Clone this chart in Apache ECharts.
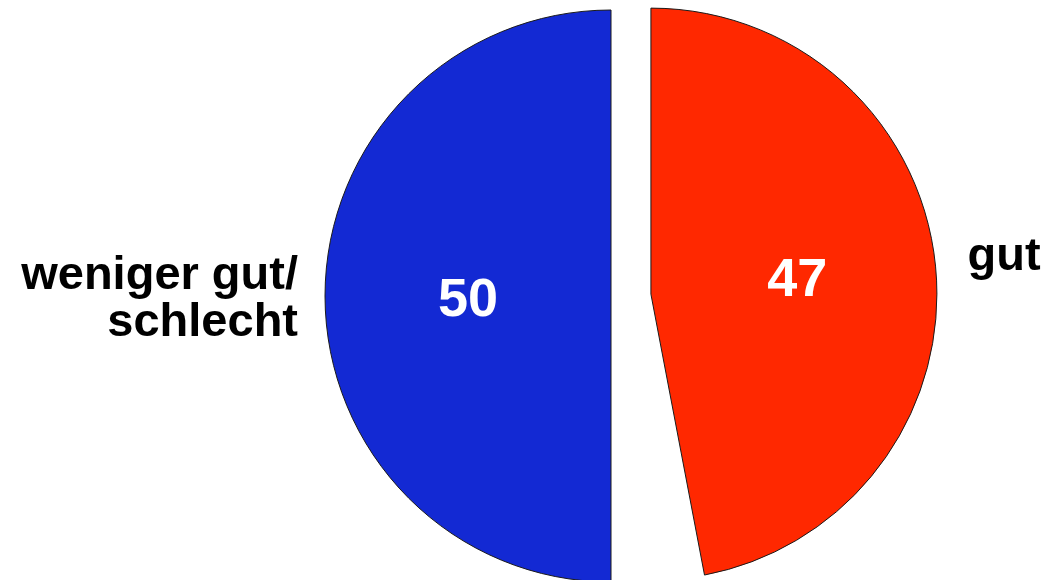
<!DOCTYPE html>
<html>
<head>
<meta charset="utf-8">
<script src="https://cdn.jsdelivr.net/npm/echarts@6/dist/echarts.min.js"></script>
<style>
html,body{margin:0;padding:0;background:#fff;}
#chart{width:1048px;height:580px;}
</style>
</head>
<body>
<div id="chart"></div>
<script>
var categories = ['gut', 'weiß nicht', 'weniger gut/\nschlecht'];
var values = [47, 3, 50];
var colors = ['#FF2800', 'transparent', '#1329D3'];
var shown = [true, false, true];

var chart = echarts.init(document.getElementById('chart'), null, {renderer: 'canvas'});
var font = "'Liberation Sans', Arial, sans-serif";

function buildData(outer) {
  return categories.map(function (c, i) {
    return {
      name: c,
      value: values[i],
      selected: shown[i],
      itemStyle: outer ? {color: 'transparent', borderWidth: 0} :
        (shown[i] ? {color: colors[i], borderColor: '#1a1a1a', borderWidth: 1} : {color: 'transparent', borderWidth: 0}),
      label: {show: shown[i]}
    };
  });
}

var common = {
  type: 'pie',
  center: [631, 296],
  radius: [0, 286],
  startAngle: 90,
  clockwise: true,
  selectedMode: 'multiple',
  selectedOffset: 20,
  avoidLabelOverlap: false,
  silent: true,
  animation: false,
  emphasis: {disabled: true}
};

chart.setOption({
  backgroundColor: '#ffffff',
  series: [
    Object.assign({}, common, {
      data: buildData(false),
      label: {
        position: 'inside',
        formatter: '{c}',
        color: '#ffffff',
        fontFamily: font,
        fontWeight: 'bold',
        fontSize: 54
      },
      labelLine: {show: false},
      labelLayout: function (p) {
        if (p.dataIndex === 2) { return {dx: 3, dy: 5}; }
        return {dx: 1, dy: 1};
      }
    }),
    Object.assign({}, common, {
      data: buildData(true),
      z: 3,
      label: {
        position: 'outside',
        formatter: '{b}',
        color: '#000000',
        fontFamily: font,
        fontWeight: 'bold',
        fontSize: 47,
        lineHeight: 47
      },
      labelLine: {show: false, length: 15, length2: 14},
      labelLayout: function (p) {
        if (p.dataIndex === 0) { return {dx: -2, dy: -9}; }
        return {dx: 7, dy: 4};
      }
    })
  ]
});
</script>
</body>
</html>
